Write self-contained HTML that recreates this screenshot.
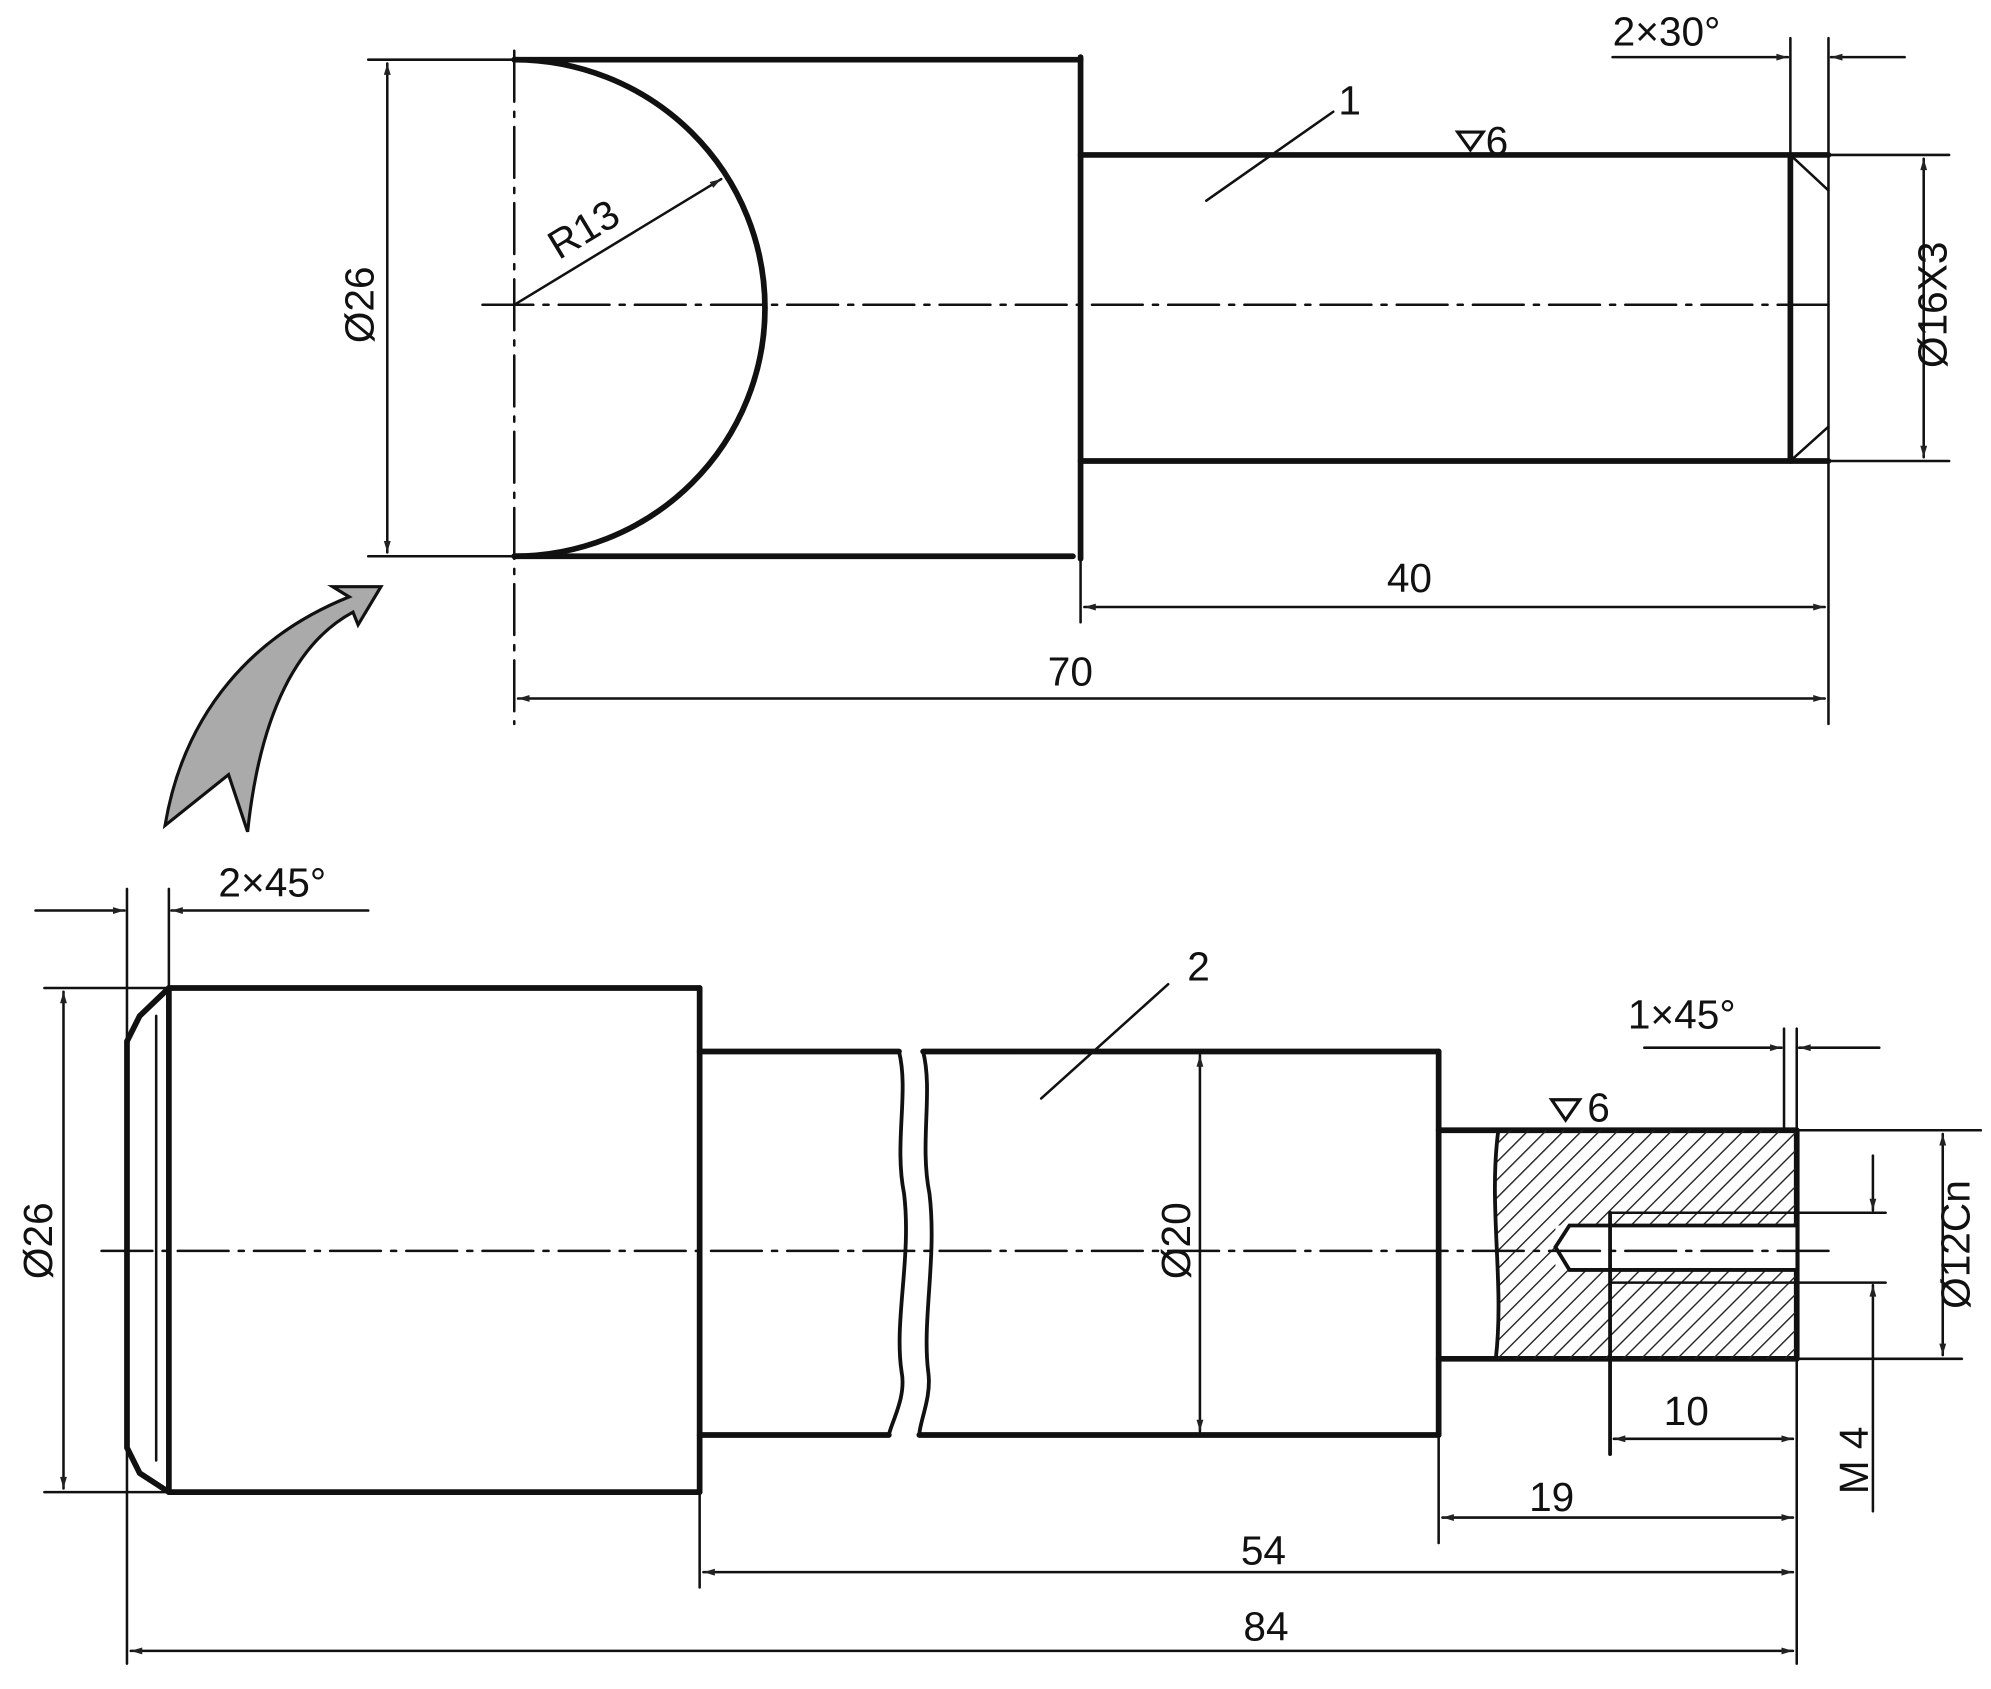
<!DOCTYPE html>
<html><head><meta charset="utf-8"><style>
html,body{margin:0;padding:0;background:#fff;}
svg{display:block;}
text{font-family:"Liberation Sans",sans-serif;fill:#111;}
</style></head><body>
<svg width="1991" height="1689" viewBox="0 0 1568 1330" preserveAspectRatio="none" xmlns="http://www.w3.org/2000/svg">
<defs>
<pattern id="h" width="10" height="10" patternUnits="userSpaceOnUse" patternTransform="rotate(45)">
<line x1="0" y1="0" x2="0" y2="10" stroke="#222" stroke-width="2.2"/>
</pattern>
<marker id="a" viewBox="0 0 10 10" refX="10" refY="5" markerWidth="18" markerHeight="9" orient="auto-start-reverse" markerUnits="userSpaceOnUse">
<path d="M0,2 L10,5 L0,8 Z" fill="#222"/>
</marker>
</defs>
<g stroke="#111" fill="none" stroke-linecap="round">
<g stroke-width="4.5">
<line x1="405" y1="47" x2="851" y2="47"/>
<line x1="405" y1="438" x2="845" y2="438"/>
<line x1="851" y1="45" x2="851" y2="440"/>
<line x1="851" y1="122" x2="1440" y2="122"/>
<line x1="851" y1="363" x2="1440" y2="363"/>
<line x1="1410" y1="122" x2="1410" y2="363"/>
<path d="M405,47 A197,195 0 0 1 405,438"/>
</g>
<g stroke-width="2">
<line x1="1410" y1="122" x2="1440" y2="150"/>
<line x1="1410" y1="363" x2="1440" y2="336"/>
<line x1="1440" y1="30" x2="1440" y2="570"/>
<line x1="1410" y1="30" x2="1410" y2="120"/>
<line x1="405" y1="40" x2="405" y2="570" stroke-dasharray="40 8 4 8"/>
<line x1="380" y1="240" x2="1445" y2="240" stroke-dasharray="40 8 4 8"/>
<line x1="851" y1="440" x2="851" y2="490"/>
<line x1="290" y1="47" x2="405" y2="47"/>
<line x1="290" y1="438" x2="405" y2="438"/>
<line x1="305" y1="50" x2="305" y2="435" marker-start="url(#a)" marker-end="url(#a)"/>
<line x1="1440" y1="122" x2="1535" y2="122"/>
<line x1="1440" y1="363" x2="1535" y2="363"/>
<line x1="1515" y1="125" x2="1515" y2="360" marker-start="url(#a)" marker-end="url(#a)"/>
<line x1="854" y1="478" x2="1437" y2="478" marker-start="url(#a)" marker-end="url(#a)"/>
<line x1="408" y1="550" x2="1437" y2="550" marker-start="url(#a)" marker-end="url(#a)"/>
<line x1="1270" y1="45" x2="1408" y2="45" marker-end="url(#a)"/>
<line x1="1500" y1="45" x2="1442" y2="45" marker-end="url(#a)"/>
<line x1="405" y1="240" x2="568" y2="141" marker-end="url(#a)"/>
<line x1="950" y1="158" x2="1050" y2="88"/>
</g>
<path d="M1148,104 L1168,104 L1158,118 Z" stroke-width="2.5"/>
<path d="M130,650 C145,560 200,500 275,470 L262,462 L300,462 L282,492 L278,482 C235,505 205,560 195,655 L180,610 Z" fill="#aaa" stroke-width="2.5"/>

<g stroke-width="4.5">
<line x1="133" y1="778" x2="551" y2="778"/>
<line x1="133" y1="1175" x2="551" y2="1175"/>
<line x1="133" y1="778" x2="133" y2="1175"/>
<line x1="551" y1="778" x2="551" y2="1175"/>
<path d="M133,778 L110,800 L100,820 L100,1140 L110,1160 L133,1175"/>
<line x1="551" y1="828" x2="708" y2="828"/>
<line x1="727" y1="828" x2="1133" y2="828"/>
<line x1="551" y1="1130" x2="700" y2="1130"/>
<line x1="724" y1="1130" x2="1133" y2="1130"/>
<line x1="1133" y1="828" x2="1133" y2="1130"/>
<line x1="1133" y1="890" x2="1415" y2="890"/>
<line x1="1133" y1="1070" x2="1415" y2="1070"/>
<line x1="1415" y1="890" x2="1415" y2="1070"/>
</g>
<path d="M1180,890 C1172,950 1185,1010 1178,1070 L1415,1070 L1415,890 Z" fill="url(#h)" stroke="none"/>
<rect x="1225" y="965" width="190" height="35" fill="#fff" stroke="none"/>
<g stroke-width="3">
<path d="M1180,890 C1172,950 1185,1010 1178,1070"/>
<path d="M1268,965 L1236,965 L1225,982 L1236,1000 L1268,1000"/>
<line x1="1268" y1="955" x2="1268" y2="1145"/>
<line x1="1268" y1="965" x2="1415" y2="965"/>
<line x1="1268" y1="1000" x2="1415" y2="1000"/>
<line x1="1268" y1="955" x2="1415" y2="955" stroke-width="2"/>
<line x1="1268" y1="1010" x2="1415" y2="1010" stroke-width="2"/>
<path d="M708,828 C716,860 704,900 712,940 C718,990 704,1040 710,1080 C714,1100 702,1120 700,1130"/>
<path d="M727,828 C735,860 724,900 732,940 C738,990 726,1040 731,1080 C734,1100 724,1120 724,1130"/>
</g>
<g stroke-width="2">
<line x1="123" y1="800" x2="123" y2="1150"/>
<line x1="100" y1="700" x2="100" y2="1310"/>
<line x1="133" y1="700" x2="133" y2="778"/>
<line x1="35" y1="778" x2="133" y2="778"/>
<line x1="35" y1="1175" x2="133" y2="1175"/>
<line x1="50" y1="781" x2="50" y2="1172" marker-start="url(#a)" marker-end="url(#a)"/>
<line x1="28" y1="717" x2="98" y2="717" marker-end="url(#a)"/>
<line x1="290" y1="717" x2="135" y2="717" marker-end="url(#a)"/>
<line x1="80" y1="985" x2="1440" y2="985" stroke-dasharray="40 8 4 8"/>
<line x1="945" y1="831" x2="945" y2="1127" marker-start="url(#a)" marker-end="url(#a)"/>
<line x1="820" y1="865" x2="920" y2="775"/>
<line x1="1415" y1="810" x2="1415" y2="1310"/>
<line x1="1405" y1="810" x2="1405" y2="890"/>
<line x1="1295" y1="825" x2="1403" y2="825" marker-end="url(#a)"/>
<line x1="1480" y1="825" x2="1417" y2="825" marker-end="url(#a)"/>
<line x1="1415" y1="890" x2="1560" y2="890"/>
<line x1="1415" y1="1070" x2="1545" y2="1070"/>
<line x1="1530" y1="893" x2="1530" y2="1067" marker-start="url(#a)" marker-end="url(#a)"/>
<line x1="1415" y1="955" x2="1485" y2="955"/>
<line x1="1415" y1="1010" x2="1485" y2="1010"/>
<line x1="1475" y1="910" x2="1475" y2="953" marker-end="url(#a)"/>
<line x1="1475" y1="1190" x2="1475" y2="1012" marker-end="url(#a)"/>
<line x1="1271" y1="1133" x2="1412" y2="1133" marker-start="url(#a)" marker-end="url(#a)"/>
<line x1="1133" y1="1130" x2="1133" y2="1215"/>
<line x1="1136" y1="1195" x2="1412" y2="1195" marker-start="url(#a)" marker-end="url(#a)"/>
<line x1="551" y1="1175" x2="551" y2="1250"/>
<line x1="554" y1="1238" x2="1412" y2="1238" marker-start="url(#a)" marker-end="url(#a)"/>
<line x1="103" y1="1300" x2="1412" y2="1300" marker-start="url(#a)" marker-end="url(#a)"/>
</g>
<path d="M1222,866 L1244,866 L1233,882 Z" stroke-width="2.5"/>
</g>

<g font-size="32">
<text x="1270" y="36">2×30°</text>
<text x="1054" y="90">1</text>
<text x="1170" y="122">6</text>
<text x="1110" y="466" text-anchor="middle">40</text>
<text x="843" y="540" text-anchor="middle">70</text>
<text transform="translate(294,240) rotate(-90)" text-anchor="middle">Ø26</text>
<text transform="translate(1533,240) rotate(-90)" text-anchor="middle">Ø16X3</text>
<text transform="translate(440,205) rotate(-31)">R13</text>
<text x="172" y="706">2×45°</text>
<text transform="translate(41,977) rotate(-90)" text-anchor="middle">Ø26</text>
<text transform="translate(937,977) rotate(-90)" text-anchor="middle">Ø20</text>
<text x="935" y="772">2</text>
<text x="1282" y="810">1×45°</text>
<text x="1250" y="883">6</text>
<text transform="translate(1551,980) rotate(-90)" text-anchor="middle">Ø12Cn</text>
<text transform="translate(1471,1150) rotate(-90)" text-anchor="middle">M 4</text>
<text x="1328" y="1122" text-anchor="middle">10</text>
<text x="1222" y="1190" text-anchor="middle">19</text>
<text x="995" y="1232" text-anchor="middle">54</text>
<text x="997" y="1292" text-anchor="middle">84</text>
</g>
</svg>
</body></html>
